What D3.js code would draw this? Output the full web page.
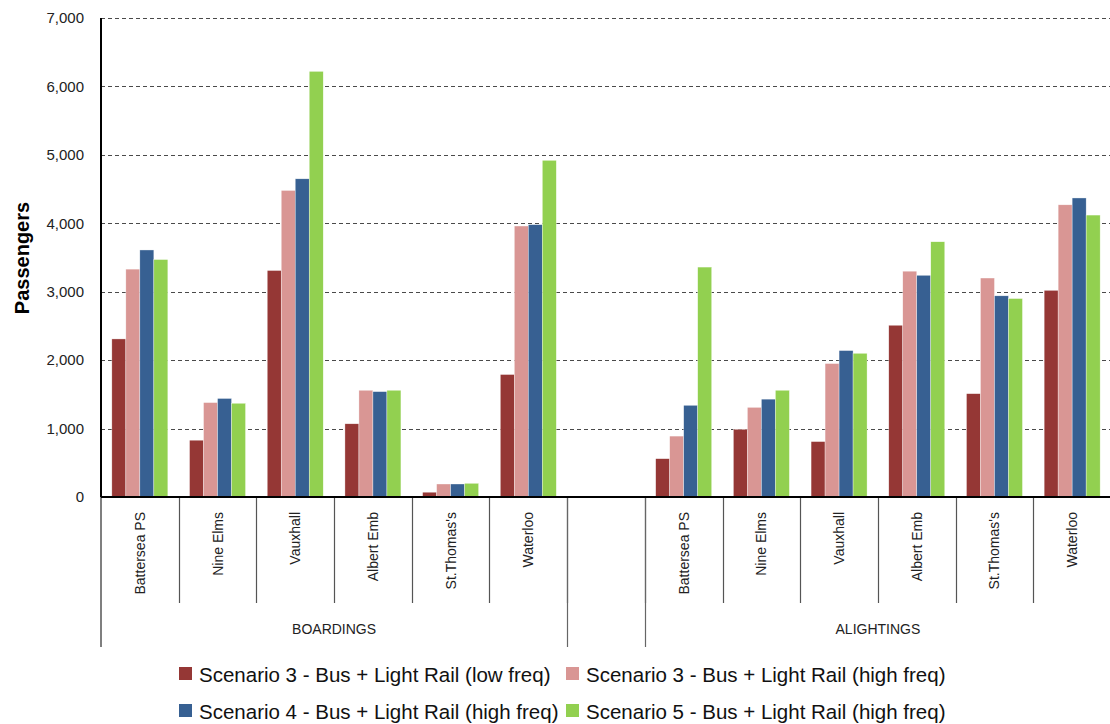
<!DOCTYPE html>
<html>
<head>
<meta charset="utf-8">
<script src="https://cdn.jsdelivr.net/npm/d3@7"></script>
<style>
  html, body { margin: 0; padding: 0; background: #fff; }
  svg { display: block; font-family: "Liberation Sans", Arial, sans-serif; }
</style>
</head>
<body>
<svg id="chart" width="1110" height="724"></svg>
<script>
// ---- data ----
const stations = ["Battersea PS", "Nine Elms", "Vauxhall", "Albert Emb", "St.Thomas's", "Waterloo"];
const groups = ["BOARDINGS", "ALIGHTINGS"];
const seriesNames = [
  "Scenario 3 - Bus + Light Rail (low freq)",
  "Scenario 3 - Bus + Light Rail (high freq)",
  "Scenario 4 - Bus + Light Rail (high freq)",
  "Scenario 5 - Bus + Light Rail (high freq)"
];
const seriesColors = ["#953735", "#D99694", "#376092", "#92D050"];

const boardS3Low  = [2310, 830, 3310, 1070, 70, 1790];
const boardS3High = [3330, 1380, 4480, 1560, 190, 3960];
const boardS4     = [3610, 1440, 4650, 1540, 190, 3980];
const boardS5     = [3470, 1370, 6220, 1560, 200, 4920];

const alightS3Low  = [560, 990, 810, 2510, 1510, 3020];
const alightS3High = [890, 1310, 1950, 3300, 3200, 4270];
const alightS4     = [1340, 1430, 2140, 3240, 2940, 4370];
const alightS5     = [3360, 1560, 2100, 3730, 2900, 4120];

const yTicks = [0, 1000, 2000, 3000, 4000, 5000, 6000, 7000];
const yLabel = "Passengers";

(function () {
// ---- build slots: 6 boardings, 1 empty gap, 6 alightings ----
const boardSeries = [boardS3Low, boardS3High, boardS4, boardS5];
const alightSeries = [alightS3Low, alightS3High, alightS4, alightS5];
const slots = [];
stations.forEach((s, i) => slots.push({ key: "B" + i, name: s, group: 0, values: boardSeries.map(a => a[i]) }));
slots.push({ key: "gap", name: "", group: -1, values: [] });
stations.forEach((s, i) => slots.push({ key: "A" + i, name: s, group: 1, values: alightSeries.map(a => a[i]) }));

// ---- layout ----
const svg = d3.select("#chart");
const pLeft = 101, pRight = 1111, pTop = 18, pBottom = 497;

const x0 = d3.scaleBand().domain(slots.map(d => d.key)).range([pLeft, pRight]).paddingInner(0).paddingOuter(0);
const x1 = d3.scaleBand().domain(d3.range(seriesNames.length)).range([0, x0.bandwidth()]).paddingInner(0).paddingOuter(0.775);
const y = d3.scaleLinear().domain([0, 7000]).range([pBottom, pTop]);

// gridlines
svg.append("g").selectAll("line").data(yTicks.filter(t => t > 0)).join("line")
  .attr("x1", pLeft).attr("x2", 1110)
  .attr("y1", d => Math.round(y(d)) + 0.5).attr("y2", d => Math.round(y(d)) + 0.5)
  .attr("stroke", "#4a4a4a").attr("stroke-width", 1.2).attr("stroke-dasharray", "4,3");

// y axis tick labels
const yAxis = d3.axisLeft(y).tickValues(yTicks).tickFormat(d3.format(",")).tickSize(0).tickPadding(17);
const yg = svg.append("g").attr("transform", `translate(${pLeft},0)`).call(yAxis);
yg.select(".domain").remove();
yg.selectAll("text").attr("font-size", 15).attr("fill", "#222").attr("font-family", '"Liberation Sans", Arial, sans-serif');

// bars
const slotG = svg.append("g").selectAll("g").data(slots.filter(s => s.values.length)).join("g")
  .attr("transform", d => `translate(${x0(d.key)},0)`);
slotG.selectAll("rect").data(d => d.values.map((v, i) => ({ v, i }))).join("rect")
  .attr("x", d => x1(d.i))
  .attr("width", x1.bandwidth())
  .attr("y", d => y(d.v))
  .attr("height", d => y(0) - y(d.v))
  .attr("fill", d => seriesColors[d.i])
  .attr("stroke", "#ffffff").attr("stroke-width", 0.5).attr("stroke-opacity", 0.7);

// category separators (short)
const boundaries = slots.map(s => x0(s.key)).concat([pRight]);
svg.append("g").selectAll("line").data(boundaries.slice(1, -1)).join("line")
  .attr("x1", d => Math.round(d) + 0.5).attr("x2", d => Math.round(d) + 0.5)
  .attr("y1", pBottom).attr("y2", 603)
  .attr("stroke", "#555").attr("stroke-width", 1.2);

// group separators (long)
const groupEdges = [x0("gap"), x0("A0")];
svg.append("g").selectAll("line").data(groupEdges).join("line")
  .attr("x1", d => Math.round(d) + 0.5).attr("x2", d => Math.round(d) + 0.5)
  .attr("y1", pBottom).attr("y2", 647)
  .attr("stroke", "#666").attr("stroke-width", 1.2);

// y axis line
svg.append("line").attr("x1", pLeft).attr("x2", pLeft).attr("y1", pTop).attr("y2", pBottom)
  .attr("stroke", "#000").attr("stroke-width", 2);
svg.append("line").attr("x1", pLeft).attr("x2", pLeft).attr("y1", pBottom).attr("y2", 647)
  .attr("stroke", "#555").attr("stroke-width", 1.5);
// x axis line
svg.append("line").attr("x1", pLeft).attr("x2", 1110).attr("y1", pBottom).attr("y2", pBottom)
  .attr("stroke", "#000").attr("stroke-width", 2);

// category labels
svg.append("g").selectAll("text").data(slots.filter(s => s.name)).join("text")
  .attr("transform", d => `translate(${x0(d.key) + x0.bandwidth() / 2 + 5},512) rotate(-90)`)
  .attr("text-anchor", "end")
  .attr("font-size", 14).attr("fill", "#222")
  .text(d => d.name);

// group labels
const groupSpans = [[x0("B0"), x0("gap")], [x0("A0"), pRight]];
svg.append("g").selectAll("text").data(groups).join("text")
  .attr("x", (d, i) => (groupSpans[i][0] + groupSpans[i][1]) / 2)
  .attr("y", 634)
  .attr("text-anchor", "middle")
  .attr("font-size", 14).attr("fill", "#222")
  .text(d => d);

// y label
svg.append("text")
  .attr("transform", "translate(29,258) rotate(-90)")
  .attr("text-anchor", "middle")
  .attr("font-size", 20).attr("font-weight", "bold").attr("fill", "#000")
  .text(yLabel);

// legend
const legendPos = [[179, 667], [566, 667], [179, 704], [566, 704]];
const lg = svg.append("g").selectAll("g").data(seriesNames).join("g")
  .attr("transform", (d, i) => `translate(${legendPos[i][0]},${legendPos[i][1]})`);
lg.append("rect").attr("width", 13).attr("height", 13).attr("fill", (d, i) => seriesColors[i]);
lg.append("text").attr("x", 20).attr("y", 14.5)
  .attr("font-size", 20.5).attr("fill", "#111")
  .text(d => d);
})();
</script>
</body>
</html>
